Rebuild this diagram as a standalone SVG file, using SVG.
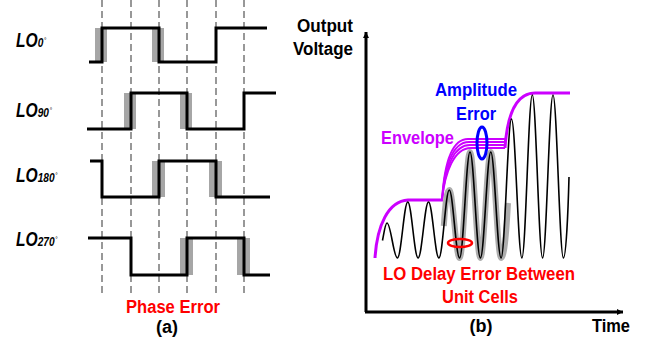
<svg xmlns="http://www.w3.org/2000/svg" width="650" height="346" viewBox="0 0 650 346">
<style>
.dash{stroke:#777;stroke-width:1.5;stroke-dasharray:7,4;fill:none}
.sq{stroke:#000;stroke-width:3;fill:none;stroke-linejoin:miter}
.sh{fill:#a6a6a6}
.lo{font-family:"Liberation Sans",Arial,sans-serif;font-weight:bold;font-style:italic;font-size:20px;fill:#000}
.sub{font-size:13px}
.deg{font-size:8px;font-style:normal;font-weight:normal}
.t{font-family:"Liberation Sans",Arial,sans-serif;font-weight:bold;font-size:18px}
.env{stroke:#cc00ff;fill:none;stroke-width:3}
.env2{stroke:#cc00ff;fill:none;stroke-width:1.8}
</style>
<defs>
<marker id="ah" viewBox="0 0 10 10" refX="10" refY="5" markerWidth="6" markerHeight="6" orient="auto" markerUnits="userSpaceOnUse">
<path d="M0,0 L10,5 L0,10 z" fill="#000"/>
</marker>
</defs>
<rect width="650" height="346" fill="#fff"/>

<g id="panel-a">
<g id="dashes">
<line class="dash" x1="102" y1="0" x2="102" y2="293"/>
<line class="dash" x1="131" y1="0" x2="131" y2="293"/>
<line class="dash" x1="159" y1="0" x2="159" y2="293"/>
<line class="dash" x1="187" y1="0" x2="187" y2="293"/>
<line class="dash" x1="216" y1="0" x2="216" y2="293"/>
<line class="dash" x1="244" y1="0" x2="244" y2="293"/>
</g>
<g id="lo0">
<rect class="sh" x="95" y="28" width="12" height="34"/>
<rect class="sh" x="152" y="28" width="12" height="34"/>
<path class="sq" d="M89,62 H102 V28 H159 V62 H216 V28 H267"/>
<text class="lo" transform="translate(16,47) scale(0.78,1)">LO<tspan class="sub">0</tspan><tspan class="deg" dx="1" dy="-4">°</tspan></text>
</g>
<g id="lo90">
<rect class="sh" x="124" y="93" width="12" height="36"/>
<rect class="sh" x="180" y="93" width="12" height="36"/>
<path class="sq" d="M87,129 H131 V93 H187 V129 H244 V93 H276"/>
<text class="lo" transform="translate(16,117) scale(0.78,1)">LO<tspan class="sub">90</tspan><tspan class="deg" dx="1" dy="-4">°</tspan></text>
</g>
<g id="lo180">
<rect class="sh" x="152" y="161" width="13" height="36"/>
<rect class="sh" x="209" y="161" width="13" height="36"/>
<path class="sq" d="M90,161 H102 V197 H159 V161 H216 V197 H270"/>
<text class="lo" transform="translate(16,182) scale(0.78,1)">LO<tspan class="sub">180</tspan><tspan class="deg" dx="1" dy="-4">°</tspan></text>
</g>
<g id="lo270">
<rect class="sh" x="180" y="238" width="13" height="37"/>
<rect class="sh" x="237" y="238" width="13" height="37"/>
<path class="sq" d="M88,238 H131 V275 H187 V238 H244 V275 H270"/>
<text class="lo" transform="translate(16,246) scale(0.78,1)">LO<tspan class="sub">270</tspan><tspan class="deg" dx="1" dy="-4">°</tspan></text>
</g>
<text class="t" x="126" y="313" fill="#ff0000" textLength="94" lengthAdjust="spacingAndGlyphs">Phase Error</text>
<text class="t" x="167" y="333" fill="#000" text-anchor="middle">(a)</text>
</g>

<g id="panel-b">
<g id="axes">
<line x1="366" y1="312" x2="366" y2="32" stroke="#000" stroke-width="3" marker-end="url(#ah)"/>
<line x1="365" y1="312" x2="623" y2="312" stroke="#000" stroke-width="3" marker-end="url(#ah)"/>
</g>
<text class="t" x="325" y="32" fill="#000" text-anchor="middle" textLength="56" lengthAdjust="spacingAndGlyphs">Output</text>
<text class="t" x="323" y="55" fill="#000" text-anchor="middle" textLength="60" lengthAdjust="spacingAndGlyphs">Voltage</text>
<text class="t" x="592" y="332" fill="#000" textLength="38" lengthAdjust="spacingAndGlyphs">Time</text>
<text class="t" x="481" y="332" fill="#000" text-anchor="middle">(b)</text>

<g id="envelope">
<path class="env" d="M375,258 C377,226 388,201 408,200 L443,200"/>
<path class="env2" d="M442,200 C444,166 451,139 468,139 L505,139 L505,148"/>
<path class="env2" d="M442,200 C444,168 452,142 469,142 L505,142"/>
<path class="env2" d="M442,200 C445,170 453,145 470,145 L505,145"/>
<path class="env2" d="M442,200 C445,172 454,148 471,148 L505,148"/>
<path class="env" d="M505,148 C507,118 515,93 535,93 L570,93"/>
</g>

<g id="wave">
<path d="M443.8,226 C445.5,200 447,190 449.3,190 C453,190 455.8,258 459.6,258 C463.4,258 466.2,152 470,152 C473.8,152 476.6,258 480.4,258 C484.2,258 487,152 490.8,152 C494.5,152 497.3,258 501.1,258 C504.5,258 506.5,230 508,203" fill="none" stroke="#999" stroke-width="6" stroke-opacity="0.8"/>
<path d="M382.5,240.5 C384.3,231 385.4,223 387,223 C390.8,223 393.6,258 397.4,258 C401.2,258 404,202 407.8,202 C411.5,202 414.3,258 418.1,258 C421.9,258 424.7,202 428.5,202 C432.3,202 435.1,258 438.9,258 C442.7,258 445.5,190 449.3,190 C453,190 455.8,258 459.6,258 C463.4,258 466.2,152 470,152 C473.8,152 476.6,258 480.4,258 C484.2,258 487,152 490.8,152 C494.5,152 497.3,258 501.1,258 C504.9,258 507.7,119 511.5,119 C515.3,119 518.1,258 521.9,258 C525.7,258 528.5,95 532.3,95 C536,95 538.8,258 542.6,258 C546.4,258 549.2,95 553,95 C556.8,95 559.6,258 563.4,258 C566,258 568,215 569,177" fill="none" stroke="#000" stroke-width="1.6"/>
</g>

<ellipse cx="482" cy="143" rx="5" ry="16" fill="none" stroke="#0000ff" stroke-width="3"/>
<ellipse cx="460" cy="243" rx="12" ry="4" fill="none" stroke="#ff0000" stroke-width="2.5"/>

<text class="t" x="476" y="96" fill="#0000ff" text-anchor="middle" textLength="82" lengthAdjust="spacingAndGlyphs">Amplitude</text>
<text class="t" x="476" y="120" fill="#0000ff" text-anchor="middle" textLength="40" lengthAdjust="spacingAndGlyphs">Error</text>
<text class="t" x="381" y="144" fill="#cc00ff" textLength="73" lengthAdjust="spacingAndGlyphs">Envelope</text>
<text class="t" x="479" y="280" fill="#ff0000" text-anchor="middle" textLength="192" lengthAdjust="spacingAndGlyphs">LO Delay Error Between</text>
<text class="t" x="480" y="303" fill="#ff0000" text-anchor="middle" textLength="76" lengthAdjust="spacingAndGlyphs">Unit Cells</text>
</g>
</svg>
